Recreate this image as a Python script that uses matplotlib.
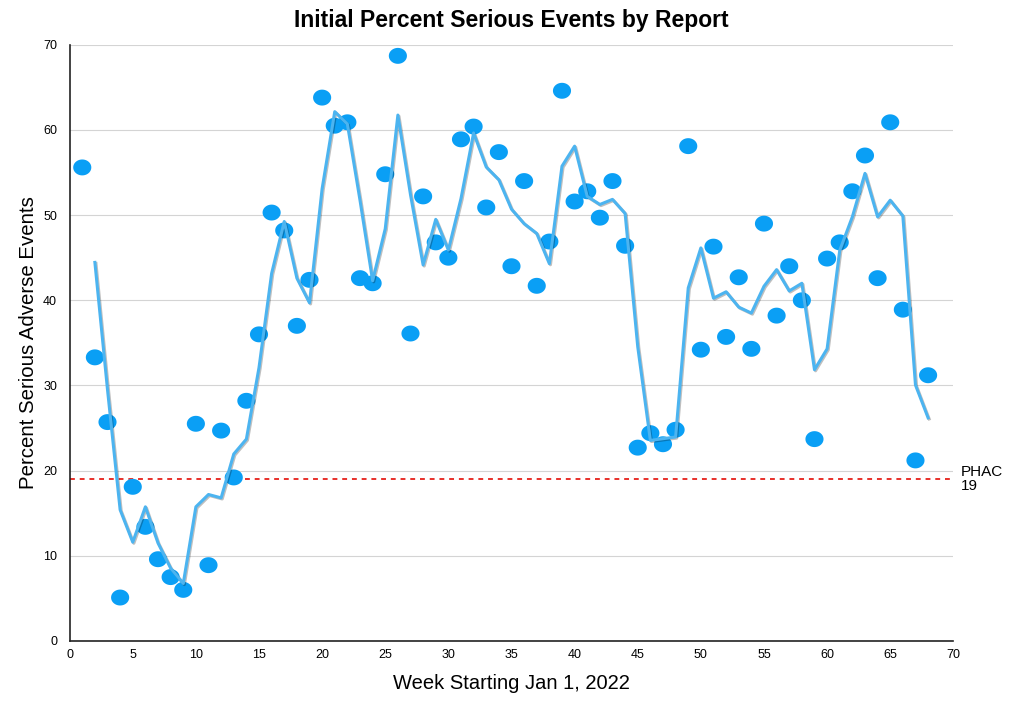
#!/usr/bin/env python3
"""
Initial percent serious events by report, with a 2-week moving average trendline.
"""

import numpy as np
import pandas as pd
import matplotlib
matplotlib.use("Agg")
import matplotlib.pyplot as plt
import matplotlib.patheffects as pe
from matplotlib.path import Path

plt.rcParams["font.family"] = ["Liberation Sans", "DejaVu Sans"]

weeks = list(range(1, 69))
percent_serious = [
    55.6, 33.3, 25.7, 5.1, 18.1, 13.4, 9.6, 7.5, 6.0, 25.5,
    8.9, 24.7, 19.2, 28.2, 36.0, 50.3, 48.2, 37.0, 42.4, 63.8,
    60.5, 60.9, 42.6, 42.0, 54.8, 68.7, 36.1, 52.2, 46.8, 45.0,
    58.9, 60.4, 50.9, 57.4, 44.0, 54.0, 41.7, 46.9, 64.6, 51.6,
    52.8, 49.7, 54.0, 46.4, 22.7, 24.4, 23.1, 24.8, 58.1, 34.2,
    46.3, 35.7, 42.7, 34.3, 49.0, 38.2, 44.0, 40.0, 23.7, 44.9,
    46.8, 52.8, 57.0, 42.6, 60.9, 38.9, 21.2, 31.2,
]
phac_level = 19
phac_label = "PHAC\n19"

x_ticks = list(range(0, 71, 5))
y_ticks = list(range(0, 71, 10))


def ellipse_marker(aspect: float = 0.88) -> Path:
    # dots in the original are slightly wider than tall
    t = np.linspace(0, 2 * np.pi, 60)
    verts = np.column_stack([np.cos(t), aspect * np.sin(t)])
    return Path(verts, closed=True)


def main() -> None:
    df = pd.DataFrame({"week": weeks, "pct": percent_serious})
    # trendline: moving average over 2 periods, like the original chart app
    df["ma"] = df["pct"].rolling(2).mean()

    fig = plt.figure(figsize=(10.24, 7.11), dpi=100)
    ax = fig.add_axes([0.068, 0.0985, 0.863, 0.8385])

    ax.set_xlim(0, 70)
    ax.set_ylim(0, 70)
    ax.set_xticks(x_ticks)
    ax.set_yticks(y_ticks)
    ax.tick_params(axis="both", length=0, labelsize=9)
    ax.tick_params(axis="y", pad=9)
    ax.tick_params(axis="x", pad=6)
    ax.yaxis.grid(True, color="#d4d4d4", linewidth=0.8)
    ax.set_axisbelow(True)
    for side in ("top", "right"):
        ax.spines[side].set_visible(False)
    for side in ("left", "bottom"):
        ax.spines[side].set_color("#222222")
        ax.spines[side].set_linewidth(1.2)

    ax.axhline(phac_level, color="#e8302a", linestyle=(0, (2.5, 2.5)), linewidth=1.4, zorder=2)
    ax.text(70.6, phac_level, phac_label, fontsize=11, va="center", ha="left",
            linespacing=0.95, clip_on=False)

    ax.scatter(df["week"], df["pct"], s=170, marker=ellipse_marker(), color="#0a9ff5",
               edgecolors="none", zorder=3)
    ax.plot(df["week"], df["ma"], color="#4cb4f0", linewidth=2.2, zorder=4,
            path_effects=[pe.SimpleLineShadow(offset=(0.8, -0.8), alpha=0.25), pe.Normal()])

    ax.set_xlabel("Week Starting Jan 1, 2022", fontsize=14.5, labelpad=9)
    ax.set_ylabel("Percent Serious Adverse Events", fontsize=14.7, labelpad=4)
    ax.set_title("Initial Percent Serious Events by Report", fontsize=16.5, fontweight="bold", pad=13)

    fig.savefig("out.png", dpi=100)
    plt.close(fig)


if __name__ == "__main__":
    main()
